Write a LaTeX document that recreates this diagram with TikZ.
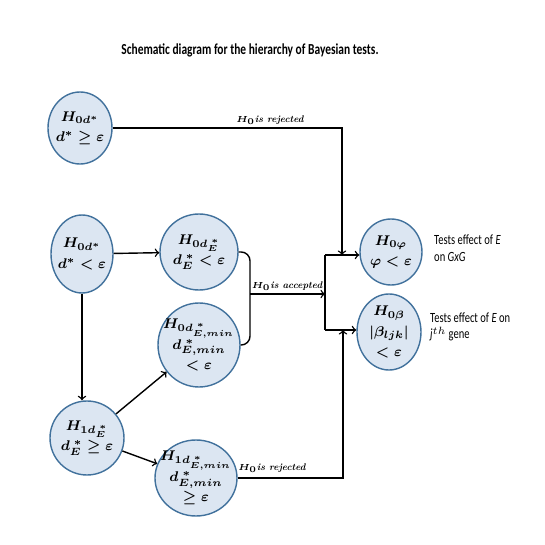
\documentclass[tikz,border=0pt]{standalone}
\usepackage{amsmath}
\usepackage{amssymb}
\usepackage{fontspec}
\newfontfamily\calfont[FakeStretch=0.75]{Carlito}
\usetikzlibrary{shapes.geometric}
\definecolor{hypfill}{RGB}{220,230,242}
\definecolor{hypline}{RGB}{65,113,156}

\begin{document}
\begin{tikzpicture}[>=to, every node/.style={font=\small},
    hyp/.style={ellipse, draw=hypline, fill=hypfill, thick, inner sep=-4pt, align=center, font=\fontsize{8}{11.5}\selectfont\boldmath},
    lbl/.style={font=\fontsize{5.5}{6.5}\selectfont\bfseries\itshape, inner sep=1pt},
    side/.style={font=\calfont\footnotesize, align=left, anchor=west}]
                \useasboundingbox (0,0) rectangle (10.9,10.9);
                \node (title) at (5.00,9.90) {\calfont\bfseries\fontsize{8.7}{10}\selectfont Schematic diagram for the hierarchy of Bayesian tests.};

                \node[hyp, minimum width=1.28cm, minimum height=1.44cm] (A) at (1.60,8.34) {$H_{0d^*}$\\$d^*\geq\varepsilon$};
                \node[hyp, minimum width=1.24cm, minimum height=1.56cm] (B) at (1.64,5.82) {$H_{0d^*}$\\$d^*<\varepsilon$};
                \node[hyp, minimum width=1.56cm, minimum height=1.52cm] (C) at (3.98,5.86) {$H_{0d_E^{\;*}}$\\$d_E^{\;*}<\varepsilon$};
                \node[hyp, minimum width=1.64cm, minimum height=1.68cm] (D) at (3.98,4.00) {$H_{0d_{E,min}^{\;*}}$\\$d_{E,min}^{\;*}$\\$<\varepsilon$};
                \node[hyp, minimum width=1.48cm, minimum height=1.48cm] (E) at (1.74,2.14) {$H_{1d_E^{\;*}}$\\$d_E^{\;*}\geq\varepsilon$};
                \node[hyp, minimum width=1.64cm, minimum height=1.52cm] (F) at (3.92,1.34) {$H_{1d_{E,min}^{\;*}}$\\$d_{E,min}^{\;*}$\\$\geq\varepsilon$};
                \node[hyp, minimum width=1.24cm, minimum height=1.32cm] (G) at (7.82,5.86) {$H_{0\varphi}$\\$\varphi<\varepsilon$};
                \node[hyp, minimum width=1.28cm, minimum height=1.52cm] (H) at (7.78,4.26) {$H_{0\beta}$\\$|\beta_{ljk}|$\\$<\varepsilon$};

                \node[side] (Gtxt) at (8.56,5.94) {Tests effect of \textit{E}\\on \textit{GxG}};
                \node[side] (Htxt) at (8.48,4.36) {Tests effect of \textit{E} on\\\textit{j}$^{th}$ gene};

                \coordinate (rejTop) at (6.84,5.80);
                \coordinate (rejBot) at (6.86,4.30);
                \coordinate (busTop) at (6.50,5.80);
                \coordinate (busBot) at (6.50,4.30);
                \coordinate (join) at (5.00,5.02);

                \draw[->, thick] (A) -| (rejTop);
                \node[lbl, above] (rejA) at (5.40,8.36) {$\boldsymbol{H_0}$is rejected};

                \draw[->, thick] (B) -- (C);
                \draw[->, thick] (B) -- (B |- E.north);
                \draw[->, thick] (E) -- (D);
                \draw[->, thick] (E) -- (F);

                \draw[thick, rounded corners=5pt] (C) -| (join) |- (D);
                \draw[->, thick] (join) -- (join -| busTop);
                \node[lbl, above] (acc) at (5.74,5.04) {$\boldsymbol{H_0}$is accepted};

                \draw[thick] (busTop) -- (busBot);
                \draw[->, thick] (busTop) -- (busTop -| G.west);
                \draw[->, thick] (busBot) -- (busBot -| H.west);

                \draw[->, thick] (F) -| (rejBot);
                \node[lbl, above] (rejF) at (5.44,1.40) {$\boldsymbol{H_0}$is rejected};
            \end{tikzpicture}
\end{document}
